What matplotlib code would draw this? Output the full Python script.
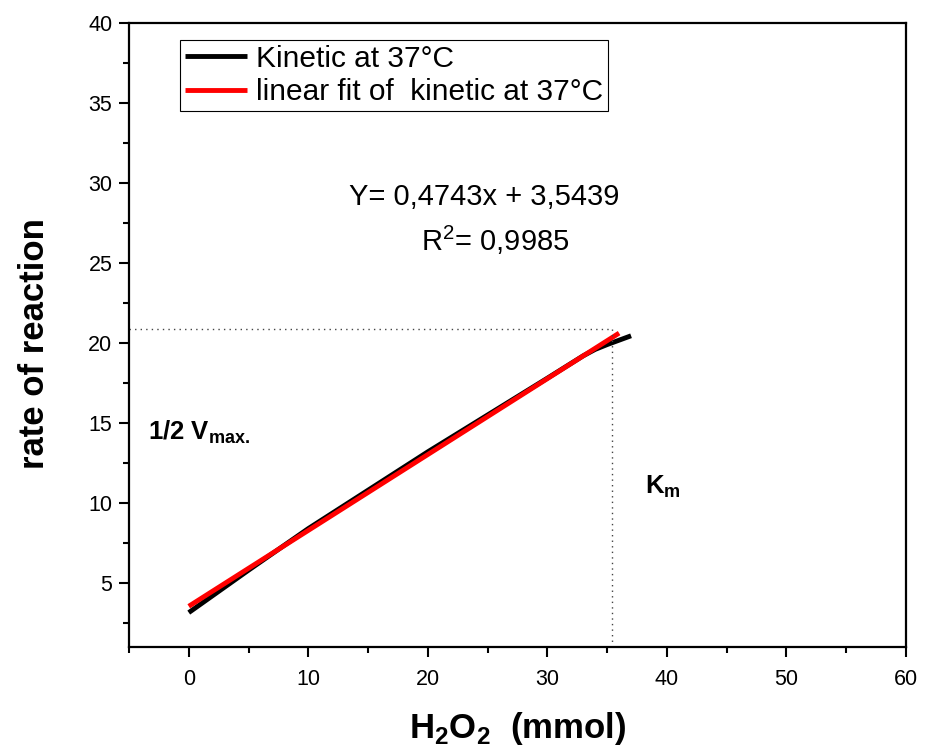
import matplotlib
matplotlib.use("Agg")
from matplotlib import pyplot as plt
from matplotlib.ticker import MultipleLocator

plt.rcParams['font.family'] = ['Liberation Sans', 'DejaVu Sans']
plt.rcParams['mathtext.fontset'] = 'custom'
plt.rcParams['mathtext.rm'] = 'Liberation Sans'
plt.rcParams['mathtext.bf'] = 'Liberation Sans:bold'

# kinetic data
h2o2 = [0, 5, 10, 15, 20, 25, 30, 33, 34, 35, 37]
rate = [3.15, 5.8, 8.4, 10.8, 13.2, 15.5, 17.8, 19.2, 19.6, 19.9, 20.45]

# linear fit
slope = 0.4743
intercept = 3.5439
fit_x = [0, 36]
fit_y = [slope * v + intercept for v in fit_x]

half_vmax = 20.9
km = 35.4

fig = plt.figure(figsize=(9.26, 7.49), dpi=100)
ax = fig.add_axes([0.1393, 0.1362, 0.8391, 0.8331])

ax.plot(h2o2, rate, color='black', lw=3.5, label='Kinetic at 37°C', solid_capstyle='butt')
ax.plot(fit_x, fit_y, color='red', lw=3.5, label='linear fit of  kinetic at 37°C', solid_capstyle='butt')

ax.plot([-5, km], [half_vmax, half_vmax], color='#444444', lw=1, ls=(0, (1, 3)))
ax.plot([km, km], [1, half_vmax], color='#444444', lw=1, ls=(0, (1, 3)))

ax.set_xlim(-5, 60)
ax.set_ylim(1, 40)
ax.xaxis.set_major_locator(MultipleLocator(10))
ax.xaxis.set_minor_locator(MultipleLocator(5))
ax.yaxis.set_major_locator(MultipleLocator(5))
ax.yaxis.set_minor_locator(MultipleLocator(2.5))
ax.set_yticks([5, 10, 15, 20, 25, 30, 35, 40])

for s in ax.spines.values():
    s.set_linewidth(1.6)
ax.tick_params(which='major', direction='out', length=7, width=1.5, labelsize=15.5)
ax.tick_params(axis='x', which='major', pad=9)
ax.tick_params(axis='y', which='major', pad=5)
ax.tick_params(which='minor', direction='out', length=4, width=1.5)

ax.set_xlabel(r'H$_\mathbf{2}$O$_\mathbf{2}$  (mmol)', fontsize=25, fontweight='bold', labelpad=14)
ax.set_ylabel('rate of reaction', fontsize=25, fontweight='bold')
ax.yaxis.set_label_coords(-0.100, 0.486)

ax.text(24.7, 29.1, 'Y= 0,4743x + 3,5439', fontsize=21, ha='center', va='center')
ax.text(25.6, 26.4, r'R$^2$= 0,9985', fontsize=21, ha='center', va='center')
ax.text(-3.4, 14.4, r'1/2 V$_{\mathbf{max.}}$', fontsize=18.5, fontweight='bold', ha='left', va='center')
ax.text(38.2, 11.0, r'K$_{\mathbf{m}}$', fontsize=18.5, fontweight='bold', ha='left', va='center')

leg = ax.legend(loc='upper left', bbox_to_anchor=(0.066, 0.972), fontsize=21.5,
                frameon=True, fancybox=False, edgecolor='black', framealpha=1,
                handlelength=2.1, handletextpad=0.3, borderpad=0.15, labelspacing=0.18,
                borderaxespad=0)
leg.get_frame().set_linewidth(0.8)

fig.savefig('out.png', dpi=100)
